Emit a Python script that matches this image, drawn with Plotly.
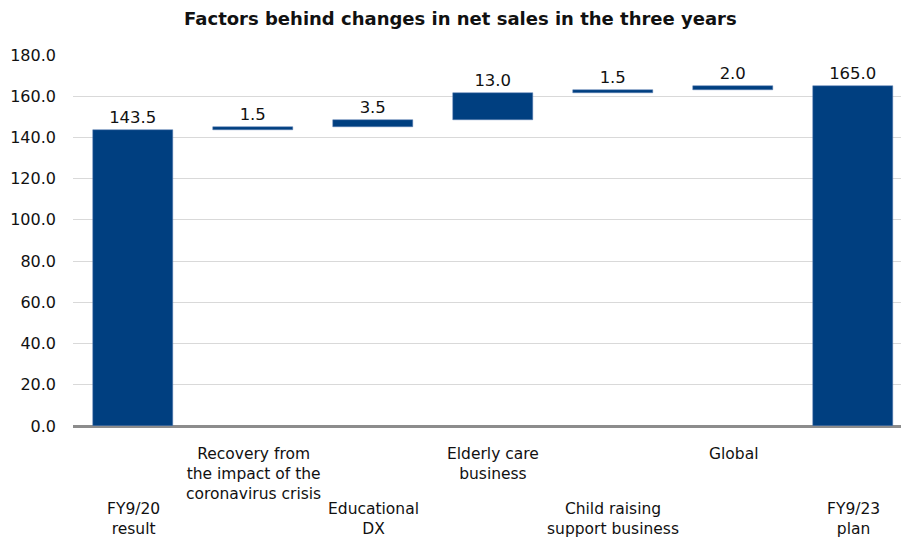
import plotly.graph_objects as go

categories = ["FY9/20<br>result",
              "Recovery from<br>the impact of the<br>coronavirus crisis",
              "Educational<br>DX",
              "Elderly care<br>business",
              "Child raising<br>support business",
              "Global",
              "FY9/23<br>plan"]
values = [143.5, 1.5, 3.5, 13.0, 1.5, 2.0, 165.0]
measures = ["absolute", "relative", "relative", "relative", "relative", "relative", "total"]
label_row = [1, 0, 1, 0, 1, 0, 1]  # 0 = upper row, 1 = lower row

# compute bases
bases = []
heights = []
running = 0.0
for v, m in zip(values, measures):
    if m == "absolute":
        bases.append(0.0); heights.append(v); running = v
    elif m == "total":
        bases.append(0.0); heights.append(running)
    else:
        bases.append(running); heights.append(v); running += v

x = list(range(len(categories)))
color = "#003F80"
font_fam = "DejaVu Sans, sans-serif"

fig = go.Figure()
fig.add_trace(go.Bar(
    x=x, y=heights, base=bases,
    marker=dict(color=color, line=dict(color="#5B7FB5", width=0.5)),
    width=0.667,
    text=[f"{v:.1f}" for v in values],
    textposition="outside",
    textfont=dict(size=16.5, color="#111111", family=font_fam),
    cliponaxis=False,
))

annotations = []
for i, (c, r) in enumerate(zip(categories, label_row)):
    annotations.append(dict(
        x=i, xref="x", y=0, yref="paper",
        yshift=-17 if r == 0 else -72,
        text=c, showarrow=False, yanchor="top", xanchor="center",
        align="center",
        font=dict(size=15.5, color="#111111", family=font_fam),
    ))

fig.update_layout(
    width=901, height=537,
    margin=dict(l=73, r=0, t=55, b=111),
    plot_bgcolor="white", paper_bgcolor="white",
    showlegend=False,
    title=dict(text="<b>Factors behind changes in net sales in the three years</b>",
               x=0.511, xref="container", xanchor="center",
               y=0.965, yanchor="middle",
               font=dict(size=18, color="#111111", family=font_fam)),
    xaxis=dict(range=[-0.5, 6.4], showticklabels=False, showgrid=False,
               zeroline=False, showline=False, ticks=""),
    yaxis=dict(range=[0, 180], dtick=20, tickformat=".1f",
               gridcolor="#D9D9D9", gridwidth=1,
               zeroline=True, zerolinecolor="#8C8C8C", zerolinewidth=2.5,
               tickfont=dict(size=16, color="#111111", family=font_fam),
               ticks="", ticklen=0, showline=False, ticklabelstandoff=16),
    annotations=annotations,
    bargap=0,
)

fig.write_html("out.html")
